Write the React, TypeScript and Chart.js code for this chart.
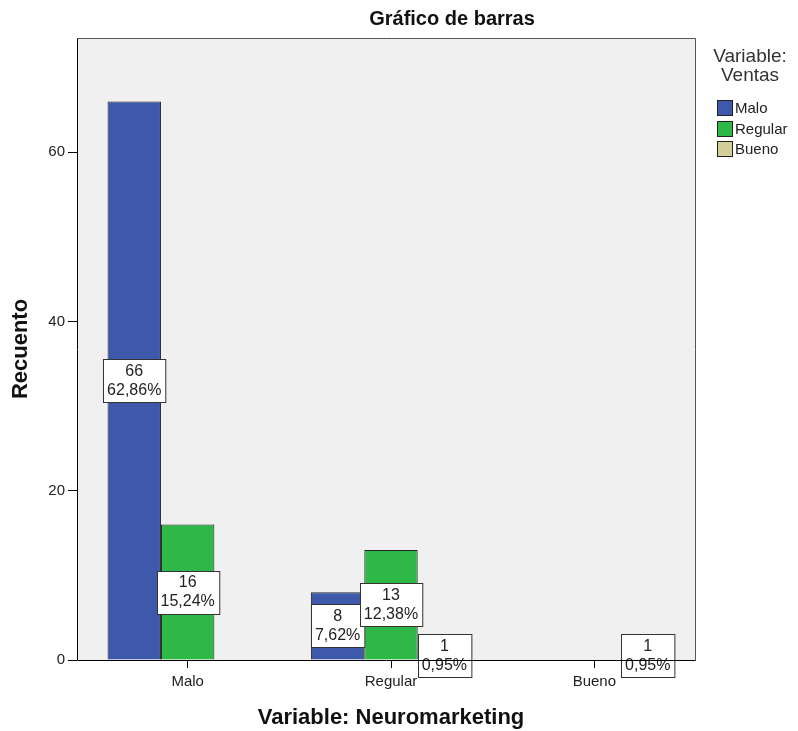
import React, { useEffect, useRef } from 'react';
import { Chart, registerables } from 'chart.js';
Chart.register(...registerables);

const categories = ['Malo', 'Regular', 'Bueno'];
const seriesNames = ['Malo', 'Regular', 'Bueno'];
const ventasMalo = [66, 8, 0];
const ventasRegular = [16, 13, 0];
const ventasBueno = [0, 1, 1];
const seriesColors = ['#3E58AC', '#2EB848', '#D3CE97'];
const yTicks = [0, 20, 40, 60];
const yMax = 73.5;
const chartTitle = 'Gráfico de barras';
const xTitle = 'Variable: Neuromarketing';
const yTitle = 'Recuento';
const legendTitle = ['Variable:', 'Ventas'];

const FONT = 'Arial, "Liberation Sans", sans-serif';

const decor = {
  id: 'decor',
  afterLayout(chart: any) {
    const x = chart.scales.x;
    x.left = chart.chartArea.left + 9;
    x.width = x.right - x.left;
    x.configure();
  },
  beforeDraw(chart: any) {
    const { ctx, chartArea: a } = chart;
    ctx.save();
    ctx.fillStyle = '#FFFFFF';
    ctx.fillRect(0, 0, chart.width, chart.height);
    ctx.fillStyle = '#F0F0F0';
    ctx.fillRect(a.left, a.top, a.right - a.left, a.bottom - a.top);
    ctx.restore();
  },
  afterDraw(chart: any) {
    const { ctx, chartArea: a } = chart;
    const datasets = chart.data.datasets;
    let total = 0;
    datasets.forEach((ds: any) => ds.data.forEach((v: any) => { total += v || 0; }));
    ctx.save();
    // data labels
    ctx.font = `16px ${FONT}`;
    datasets.forEach((ds: any, di: number) => {
      const meta = chart.getDatasetMeta(di);
      meta.data.forEach((bar: any, i: number) => {
        const v = ds.data[i];
        if (!v) return;
        const p = bar.getProps(['x', 'y', 'base'], true);
        const cy = (p.y + p.base) / 2;
        const l1 = String(v);
        const l2 = ((v / total) * 100).toFixed(2).replace('.', ',') + '%';
        const w = Math.max(ctx.measureText(l1).width, ctx.measureText(l2).width) + 8;
        const h = 43;
        const bx = Math.round(p.x - w / 2) + 0.5;
        const by = Math.round(cy - h / 2) + 0.5;
        ctx.fillStyle = '#FFFFFF';
        ctx.fillRect(bx, by, w, h);
        ctx.strokeStyle = '#333333';
        ctx.lineWidth = 1;
        ctx.strokeRect(bx, by, w, h);
        ctx.fillStyle = '#222222';
        ctx.textAlign = 'center';
        ctx.textBaseline = 'middle';
        ctx.fillText(l1, p.x, cy - 9);
        ctx.fillText(l2, p.x, cy + 10);
      });
    });
    // frame
    const L = Math.round(a.left) + 0.5;
    const R = Math.round(a.right) - 0.5;
    const T = Math.round(a.top) + 0.5;
    const B = Math.round(a.bottom) + 0.5;
    ctx.lineWidth = 1;
    ctx.strokeStyle = '#555555';
    ctx.beginPath();
    ctx.moveTo(L, T); ctx.lineTo(R, T); ctx.lineTo(R, B);
    ctx.stroke();
    ctx.strokeStyle = '#000000';
    ctx.beginPath();
    ctx.moveTo(L, T); ctx.lineTo(L, B); ctx.lineTo(R, B);
    ctx.stroke();
    // title
    ctx.fillStyle = '#111111';
    ctx.font = `bold 20px ${FONT}`;
    ctx.textAlign = 'center';
    ctx.textBaseline = 'middle';
    ctx.fillText(chartTitle, 452, 19);
    // legend
    ctx.fillStyle = '#333333';
    ctx.font = `19px ${FONT}`;
    ctx.fillText(legendTitle[0], 750, 57);
    ctx.fillText(legendTitle[1], 750, 76);
    ctx.font = `15px ${FONT}`;
    ctx.textAlign = 'left';
    seriesNames.forEach((name, i) => {
      const sy = 100 + i * 20.5;
      ctx.fillStyle = seriesColors[i];
      ctx.fillRect(717.5, Math.round(sy) + 0.5, 15, 15);
      ctx.strokeStyle = '#222222';
      ctx.strokeRect(717.5, Math.round(sy) + 0.5, 15, 15);
      ctx.fillStyle = '#222222';
      ctx.fillText(name, 735, Math.round(sy) + 8.5);
    });
    ctx.restore();
  },
};

export default function App() {
  const ref = useRef<HTMLCanvasElement>(null);
  useEffect(() => {
    document.body.style.margin = '0';
    const toBar = (arr: number[]) => arr.map((v) => (v === 0 ? null : v));
    const series = [ventasMalo, ventasRegular, ventasBueno];
    const chart = new Chart(ref.current as HTMLCanvasElement, {
      type: 'bar',
      data: {
        labels: categories,
        datasets: series.map((arr, i) => ({
          label: seriesNames[i],
          data: toBar(arr) as any,
          backgroundColor: seriesColors[i],
          borderColor: '#222222',
          borderWidth: 1,
          categoryPercentage: 0.788,
          barPercentage: 1,
        })),
      },
      options: {
        responsive: false,
        animation: false,
        layout: { padding: { top: 38, right: 102, left: 0, bottom: 0 } },
        plugins: {
          legend: { display: false },
          title: { display: false },
          tooltip: { enabled: false },
        },
        scales: {
          x: {
            grid: { offset: false, drawOnChartArea: false, drawTicks: true, tickLength: 8, color: '#000000' },
            border: { display: false },
            ticks: { padding: 5, color: '#222222', font: { family: FONT, size: 15 } },
            title: {
              display: true,
              text: xTitle,
              color: '#111111',
              font: { family: FONT, size: 22, weight: 'bold' },
              padding: { top: 0, bottom: 0 },
            },
            afterFit: (s: any) => { s.height = 71; },
          },
          y: {
            min: 0,
            max: yMax,
            grid: { drawOnChartArea: false, drawTicks: true, tickLength: 9, color: '#000000' },
            border: { display: false },
            ticks: { padding: 3, color: '#222222', font: { family: FONT, size: 15 } },
            afterBuildTicks: (s: any) => { s.ticks = yTicks.map((v) => ({ value: v })); },
            title: {
              display: true,
              text: yTitle,
              color: '#111111',
              font: { family: FONT, size: 22, weight: 'bold' },
              padding: { top: 8, bottom: 0 },
            },
            afterFit: (s: any) => { s.width = 77; },
          },
        },
      },
      plugins: [decor],
    });
    return () => chart.destroy();
  }, []);
  return (
    <div style={{ width: 798, height: 731 }}>
      <canvas ref={ref} width={798} height={731} style={{ width: 798, height: 731, display: 'block' }} />
    </div>
  );
}
